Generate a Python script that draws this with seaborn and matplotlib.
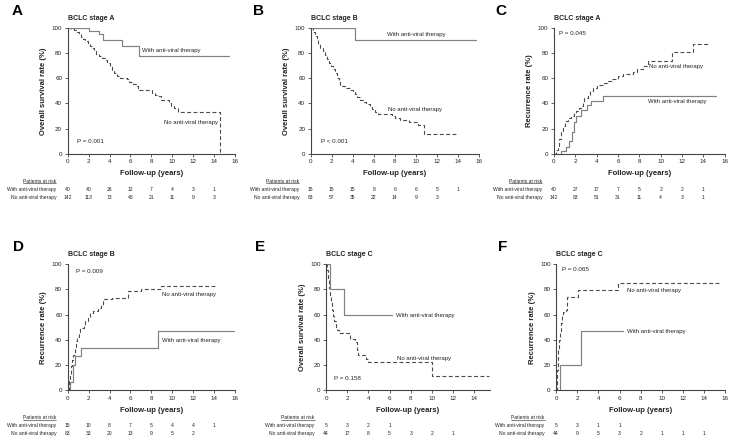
import matplotlib
matplotlib.use("Agg")
import matplotlib.pyplot as plt
import seaborn as sns
import pandas as pd
from matplotlib.lines import Line2D
from matplotlib.transforms import blended_transform_factory, IdentityTransform

# ---- data ----
years = [0, 2, 4, 6, 8, 10, 12, 14]

# A: overall survival, BCLC stage A
a_with_t = [0, 2.0, 3.0, 3.4, 5.2, 6.8, 15.4]
a_with_s = [100, 97.5, 95, 90.5, 85.5, 77.5, 77.5]
a_no_t = [0, 0.3, 0.6, 0.9, 1.1, 1.3, 1.5, 1.7, 1.9, 2.1, 2.3, 2.5, 2.7, 3.0, 3.3, 3.6, 3.8,
          4.0, 4.2, 4.4, 4.7, 5.0, 5.7, 5.9, 6.2, 6.5, 6.7, 8.1, 8.3, 8.7, 8.9, 9.7, 9.9,
          10.2, 10.5, 14.55]
a_no_s = [100, 99, 98, 96.5, 95, 93, 91, 89.5, 88, 86, 84, 81.5, 79.5, 78, 76.5, 74.5, 72.5,
          69.5, 66.5, 64, 62, 60.5, 59.5, 57, 55.5, 53.5, 50.5, 48.5, 47, 45.5, 42.5, 40, 38,
          36, 33, 0]
a_risk_with = [40, 40, 26, 12, 7, 4, 3, 1]
a_risk_no = [142, 113, 73, 48, 21, 11, 9, 3]

# B: overall survival, BCLC stage B
b_with_t = [0, 4.2, 15.7]
b_with_s = [100, 90.5, 90.5]
b_no_t = [0, 0.2, 0.4, 0.55, 0.7, 0.85, 1.2, 1.4, 1.55, 1.75, 1.9, 2.1, 2.3, 2.5, 2.7, 2.8,
          3.3, 3.7, 4.0, 4.2, 4.4, 4.7, 5.0, 5.3, 5.6, 5.8, 6.1, 6.4, 7.7, 8.0, 8.5, 9.4,
          10.2, 10.8, 14.0]
b_no_s = [100, 97, 94, 91, 87, 84, 82, 78.5, 75.5, 72, 69.5, 67, 64, 60.5, 57, 54,
          52.5, 50.5, 49, 47.5, 45, 43, 41.5, 39.5, 37.5, 35.5, 33.5, 31.5, 30, 28.5, 27, 25,
          22.5, 16, 16]
b_risk_with = [15, 15, 15, 8, 6, 6, 5, 1]
b_risk_no = [83, 57, 35, 22, 14, 9, 3]

# C: recurrence, BCLC stage A
c_with_t = [0, 0.7, 1.1, 1.4, 1.7, 1.9, 2.1, 2.5, 3.1, 3.5, 4.6, 15.2]
c_with_s = [0, 2.5, 5, 10, 17.5, 25, 30, 35, 38.5, 42, 45.5, 45.5]
c_no_t = [0, 0.2, 0.35, 0.5, 0.65, 0.8, 1.0, 1.3, 1.6, 1.85, 2.05, 2.3, 2.5, 2.7, 2.85, 3.15,
          3.4, 3.7, 4.0, 4.7, 5.0, 5.4, 6.0, 6.5, 7.4, 7.8, 8.3, 8.8, 11.1, 13.0, 14.5]
c_no_s = [0, 3, 6.5, 12, 18, 22, 26, 28, 30, 32, 34, 36, 38, 41, 44, 47,
          49.5, 52, 54.5, 56, 58, 59.5, 61.5, 63, 65, 67, 70, 73.5, 80.5, 87, 87]
c_risk_with = [40, 27, 17, 7, 5, 2, 2, 1]
c_risk_no = [142, 83, 51, 31, 11, 4, 3, 1]

# D: recurrence, BCLC stage B
d_with_t = [0, 0.2, 0.5, 0.55, 0.65, 1.3, 8.6, 15.9]
d_with_s = [0, 6.7, 13.3, 20, 26.7, 33.3, 46.7, 46.7]
d_no_t = [0, 0.1, 0.15, 0.25, 0.3, 0.45, 0.55, 0.65, 0.75, 0.9, 1.05, 1.2, 1.55, 1.7, 1.9,
          2.1, 2.4, 2.85, 3.15, 3.4, 4.25, 5.75, 7.0, 8.95, 14.2]
d_no_s = [0, 3, 7, 13, 19, 24, 28, 34, 39, 42.5, 46, 49, 52, 55, 58,
          61, 62.5, 65, 67.5, 72.5, 73.5, 78.5, 80.5, 83, 83]
d_risk_with = [15, 10, 8, 7, 5, 4, 4, 1]
d_risk_no = [83, 33, 20, 13, 9, 5, 2]

# E: overall survival, BCLC stage C
e_with_t = [0, 0.4, 1.67, 6.2]
e_with_s = [100, 80, 60, 60]
e_no_t = [0, 0.1, 0.2, 0.3, 0.4, 0.5, 0.6, 0.7, 0.8, 0.9, 1.05, 1.25, 2.25, 2.7, 2.9, 3.05,
          3.8, 4.0, 9.97, 15.4]
e_no_s = [100, 95.5, 88.5, 81.5, 75, 70, 63.5, 59, 55, 50, 47.5, 45.5, 40.5, 38.5, 32, 27.5,
          25, 22, 11, 11]
e_risk_with = [5, 3, 2, 1]
e_risk_no = [44, 17, 8, 5, 3, 2, 1]

# F: recurrence, BCLC stage C
f_with_t = [0, 0.4, 2.4, 6.3]
f_with_s = [0, 20, 46.7, 46.7]
f_no_t = [0, 0.05, 0.1, 0.15, 0.2, 0.25, 0.35, 0.5, 0.6, 0.7, 0.95, 1.05, 2.05, 5.9, 15.4]
f_no_s = [0, 8, 16, 25, 32, 40, 46.5, 53, 59, 62, 64, 74, 79.5, 85, 85]
f_risk_with = [5, 3, 1, 1]
f_risk_no = [44, 9, 5, 3, 2, 1, 1, 1]

# ---- style ----
sns.set_style("ticks")
plt.rcParams['font.family'] = ['Liberation Sans', 'DejaVu Sans']
txt_col = '#222222'

fig = plt.figure(figsize=(7.32, 4.40), dpi=100)
headers = []


def km_panel(rect, letter, letter_xy, title, ylabel, t_w, s_w, t_n, s_n, risk_w, risk_n,
             with_xy, no_xy, ptxt, p_xy, xmax=16, xticks=range(0, 17, 2)):
    ax = fig.add_axes(rect)
    df_w = pd.DataFrame({'t': t_w, 's': s_w})
    df_n = pd.DataFrame({'t': t_n, 's': s_n})
    sns.lineplot(data=df_n, x='t', y='s', ax=ax, drawstyle='steps-post', estimator=None,
                 sort=False, color='#4a4a4a', linewidth=0.8, linestyle=(0, (3.5, 2.2)))
    sns.lineplot(data=df_w, x='t', y='s', ax=ax, drawstyle='steps-post', estimator=None,
                 sort=False, color='#808080', linewidth=0.85)
    ax.set_xlim(0, xmax)
    ax.set_ylim(0, 100)
    ax.set_xticks(list(xticks))
    ax.set_yticks(range(0, 101, 20))
    sns.despine(ax=ax)
    for sp in ['left', 'bottom']:
        ax.spines[sp].set_linewidth(0.8)
        ax.spines[sp].set_color('#444444')
    ax.tick_params(length=2, width=0.6, pad=2, labelsize=4.5, colors='#444444',
                   labelcolor=txt_col)

    w_px = rect[2] * 732
    h_px = rect[3] * 440
    ax.set_xlabel('Follow-up (years)', fontsize=5.5, fontweight='bold', color=txt_col)
    ax.xaxis.set_label_coords(0.5, -16.5 / h_px)
    ax.set_ylabel(ylabel, fontsize=5.5, fontweight='bold', color=txt_col)
    ax.yaxis.set_label_coords(-20.5 / w_px, 0.5)

    ax.text(0, 1 + 9.5 / h_px, title, transform=ax.transAxes, fontsize=5.0,
            fontweight='bold', ha='left', va='center', color=txt_col)
    fig.text(letter_xy[0] / 732, 1 - letter_xy[1] / 440, letter, fontsize=11,
             fontweight='bold', ha='center', va='center', color='black')

    ax.text(with_xy[0], with_xy[1], 'With anti-viral therapy', fontsize=4.3,
            ha='left', va='center', color=txt_col)
    ax.text(no_xy[0], no_xy[1], 'No anti-viral therapy', fontsize=4.3,
            ha='left', va='center', color=txt_col)
    ax.text(p_xy[0], p_xy[1], ptxt, fontsize=4.5, ha='left', va='center', color=txt_col)

    # numbers at risk
    tr = blended_transform_factory(ax.transData, ax.transAxes)
    lab_x = -11.5 / w_px
    hdr = ax.text(lab_x, -27.5 / h_px, 'Patients at risk', transform=ax.transAxes,
                  fontsize=3.6, ha='right', va='center', color=txt_col, clip_on=False)
    headers.append(hdr)
    ax.text(lab_x, -35.5 / h_px, 'With anti-viral therapy', transform=ax.transAxes,
            fontsize=3.6, ha='right', va='center', color=txt_col)
    ax.text(lab_x, -43.5 / h_px, 'No anti-viral therapy', transform=ax.transAxes,
            fontsize=3.6, ha='right', va='center', color=txt_col)
    for x, n in zip(years, risk_w):
        ax.text(x, -35.5 / h_px, str(n), transform=tr, fontsize=3.6, ha='center',
                va='center', color=txt_col)
    for x, n in zip(years, risk_n):
        ax.text(x, -43.5 / h_px, str(n), transform=tr, fontsize=3.6, ha='center',
                va='center', color=txt_col)
    return ax


os_label = 'Overall survival rate (%)'
rec_label = 'Recurrence rate (%)'

km_panel([0.0925, 0.6507, 0.2286, 0.2857], 'A', (17, 11), 'BCLC stage A', os_label,
         a_with_t, a_with_s, a_no_t, a_no_s, a_risk_with, a_risk_no,
         (7.1, 82), (9.2, 25), 'P = 0.001', (0.9, 10))
km_panel([0.4245, 0.6507, 0.2295, 0.2857], 'B', (259, 11), 'BCLC stage B', os_label,
         b_with_t, b_with_s, b_no_t, b_no_s, b_risk_with, b_risk_no,
         (7.3, 95), (7.4, 35.5), 'P < 0.001', (1.0, 10))
km_panel([0.7568, 0.6507, 0.2332, 0.2857], 'C', (501, 11), 'BCLC stage A', rec_label,
         c_with_t, c_with_s, c_no_t, c_no_s, c_risk_with, c_risk_no,
         (8.8, 41.5), (8.9, 69), 'P = 0.045', (0.5, 95.5))
km_panel([0.0925, 0.1136, 0.2286, 0.2857], 'D', (18, 247), 'BCLC stage B', rec_label,
         d_with_t, d_with_s, d_no_t, d_no_s, d_risk_with, d_risk_no,
         (9.0, 39), (9.0, 76), 'P = 0.009', (0.75, 94.5))
km_panel([0.4454, 0.1136, 0.2240, 0.2857], 'E', (260, 247), 'BCLC stage C', os_label,
         e_with_t, e_with_s, e_no_t, e_no_s, e_risk_with, e_risk_no,
         (6.6, 59.5), (6.7, 25), 'P = 0.158', (0.8, 9.5), xmax=15.5, xticks=range(0, 15, 2))
km_panel([0.7596, 0.1136, 0.2313, 0.2857], 'F', (503, 247), 'BCLC stage C', rec_label,
         f_with_t, f_with_s, f_no_t, f_no_s, f_risk_with, f_risk_no,
         (6.7, 46.7), (6.7, 79.5), 'P = 0.065', (0.6, 96))

# underline the "Patients at risk" headers
fig.canvas.draw()
for h in headers:
    bb = h.get_window_extent()
    fig.add_artist(Line2D([bb.x0, bb.x1], [bb.y0 + 0.3, bb.y0 + 0.3], transform=IdentityTransform(),
                          color=txt_col, linewidth=0.4))

fig.savefig('out.png', dpi=100)
